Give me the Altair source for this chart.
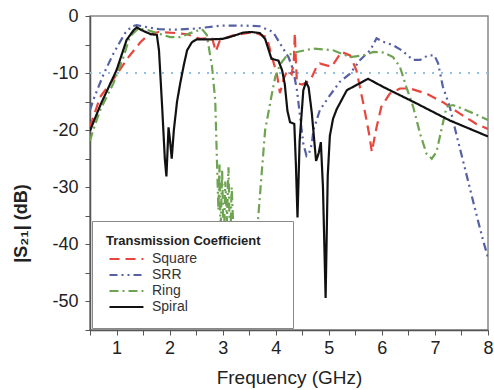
import altair as alt
import pandas as pd

# ---- data ----
series_names = ["Square", "SRR", "Ring", "Spiral"]
series_colors = ["#e8453c", "#5561a3", "#6ea352", "#111111"]
series_dashes = [[10, 6], [8, 4, 2, 4, 2, 4], [9, 4, 2, 4], [1, 0]]

sq_x = [0.5, 0.69, 1.0, 1.2, 1.45, 1.6, 1.79, 2.14, 2.33, 2.58, 2.8, 2.87, 2.95, 3.2, 3.58, 3.83, 3.93, 4.02, 4.08,
        4.15, 4.22, 4.3, 4.34, 4.36, 4.38, 4.4, 4.5, 4.65, 4.77, 4.83, 5.05, 5.24, 5.4, 5.52, 5.65, 5.77, 5.81, 5.9,
        5.99, 6.15, 6.34, 6.53, 6.84, 7.15, 7.47, 7.78, 8.0]
sq_y = [-19.5, -14.2, -10.3, -7.5, -4.6, -3.3, -2.8, -3.0, -3.2, -4.0, -3.8, -6.2, -4.2, -3.4, -2.8, -3.7, -7.2,
        -10.1, -13.5, -11.0, -9.5, -10.2, -8.0, -3.0, -8.0, -11.8, -12.0, -11.3, -8.9, -8.3, -8.9, -6.3, -6.9, -9.5,
        -15.3, -21.2, -23.8, -19.5, -15.9, -13.6, -12.7, -12.7, -13.6, -15.1, -17.1, -18.9, -19.8]

srr_x = [0.5, 0.57, 0.76, 0.94, 1.16, 1.29, 1.38, 1.6, 1.8, 2.1, 2.5, 2.95, 3.45, 3.7, 3.95, 4.08, 4.24, 4.33, 4.4,
         4.46, 4.52, 4.58, 4.63, 4.68, 4.71, 4.83, 5.02, 5.21, 5.4, 5.59, 5.78, 5.9, 6.02, 6.21, 6.37, 6.59, 6.72,
         6.87, 6.99, 7.06, 7.15, 7.28, 7.4, 7.56, 7.78, 7.91, 8.0]
srr_y = [-16.5, -14.5, -10.1, -6.6, -3.0, -1.8, -1.6, -2.0, -2.3, -2.4, -2.2, -1.7, -1.7, -1.8, -2.8, -4.8, -7.2,
         -9.5, -13.0, -17.7, -22.4, -24.5, -24.0, -22.4, -20.0, -16.5, -13.9, -11.5, -10.1, -7.7, -6.0, -3.9, -4.5,
         -5.1, -6.0, -7.7, -7.7, -6.9, -6.9, -8.3, -12.4, -15.9, -20.6, -26.5, -34.7, -39.4, -42.3]

ring_x = [0.5, 0.54, 0.69, 0.94, 1.13, 1.25, 1.41, 1.6, 1.76, 2.01, 2.2, 2.39, 2.61, 2.7, 2.8, 2.86, 2.89, 2.92,
          2.94, 2.96, 2.99, 3.02, 3.05, 3.08, 3.11, 3.14, 3.17, 3.2, 3.23, 3.4, 3.6, 3.67, 3.74, 3.8, 3.87, 3.93,
          3.99, 4.08, 4.21, 4.4, 4.71, 5.08, 5.4, 5.65, 5.84, 6.03, 6.21, 6.34, 6.46, 6.59, 6.72, 6.84, 6.94, 7.03,
          7.12, 7.22, 7.34, 7.59, 8.0]
ring_y = [-21.9, -20.6, -16.5, -11.8, -7.2, -3.6, -2.2, -2.5, -3.0, -3.7, -3.7, -3.0, -2.3, -3.3, -8.9, -14.8,
          -24.7, -34, -26, -38, -27, -40, -29, -36, -26.5, -41, -30, -37, -45, -54, -48, -35.3, -27, -20, -16.5,
          -13.5, -10.7, -8.5, -6.9, -6.3, -5.7, -6.0, -7.2, -6.9, -6.3, -6.4, -7.2, -8.9, -12.4, -15.9, -20.6,
          -24.1, -25.0, -23.8, -20.0, -15.9, -15.6, -16.5, -18.2]

sp_x = [0.5, 0.7, 1.0, 1.19, 1.32, 1.38, 1.5, 1.65, 1.76, 1.8, 1.86, 1.91, 1.94, 1.98, 2.01, 2.04, 2.08, 2.14, 2.2,
        2.27, 2.33, 2.42, 2.51, 2.75, 3.0, 3.2, 3.39, 3.55, 3.7, 3.8, 3.92, 4.05, 4.12, 4.17, 4.22, 4.27, 4.35,
        4.38, 4.41, 4.45, 4.52, 4.57, 4.62, 4.68, 4.76, 4.81, 4.85, 4.89, 4.94, 4.98, 5.02, 5.08, 5.15, 5.34, 5.52,
        5.74, 6.02, 6.65, 7.28, 8.0]
sp_y = [-20.1, -15.5, -9.5, -4.2, -2.5, -2.0, -2.6, -3.2, -3.3, -6.0, -16, -25, -28.1, -19.5, -22, -25, -20, -15,
        -11.8, -8.5, -6.0, -4.6, -4.1, -4.1, -4.0, -3.5, -2.9, -2.8, -3.0, -4.0, -7.5, -7.8, -9.5, -11.9, -16.6,
        -18.6, -18.9, -26, -35.3, -22, -13, -11.6, -12.5, -17, -25.4, -24, -22.1, -30, -49.4, -28, -21, -18,
        -16.3, -13.0, -12.1, -11.0, -12.4, -15.3, -18.3, -21.1]

ref_level = [-10]
x_ticks = [0.5, 1, 1.5, 2, 2.5, 3, 3.5, 4, 4.5, 5, 5.5, 6, 6.5, 7, 7.5, 8]
y_ticks = [-55, -50, -45, -40, -35, -30, -25, -20, -15, -10, -5, 0]

# ---- build table ----
frames = []
for name, xs, ys in zip(series_names, [sq_x, srr_x, ring_x, sp_x], [sq_y, srr_y, ring_y, sp_y]):
    frames.append(pd.DataFrame({"freq": xs, "s21": ys, "series": name, "order": range(len(xs))}))
df = pd.concat(frames, ignore_index=True)
ref_df = pd.DataFrame({"level": ref_level})

font = "Liberation Sans"

x_scale = alt.Scale(domain=[0.5, 8], nice=False, zero=False)
y_scale = alt.Scale(domain=[-55, 0], nice=False, zero=False)

x_axis = alt.Axis(values=x_ticks, labelExpr="datum.value % 1 == 0 ? '' + datum.value : ''",
                  title="Frequency (GHz)", titleFontSize=19, titleFontWeight="normal", titleColor="#222",
                  titleY=38, titleBaseline="top",
                  labelFontSize=18, labelColor="#222", labelPadding=4, tickSize=5, tickColor="#555",
                  domainColor="#555", domainWidth=1.5, grid=False, labelFlush=False)
y_axis = alt.Axis(values=y_ticks, labelExpr="datum.value % 10 == 0 ? '' + datum.value : ''",
                  title="|S\u2082\u2081| (dB)", titleFontSize=18, titleFontWeight="bold", titleColor="#222",
                  titleX=-69, titleY=207, titleAngle=-90, titleBaseline="middle", titleAlign="center",
                  labelFontSize=18, labelColor="#222", labelPadding=7, tickSize=5, tickColor="#555",
                  domainColor="#555", domainWidth=1.5, grid=False, labelFlush=False)

rule = alt.Chart(ref_df).mark_rule(color="#8fc1e3", strokeDash=[2, 7], strokeWidth=2).encode(
    y=alt.Y("level:Q", scale=y_scale, axis=y_axis)
)

lines = alt.Chart(df).mark_line(strokeWidth=2.2, clip=True).encode(
    x=alt.X("freq:Q", scale=x_scale, axis=x_axis),
    y=alt.Y("s21:Q", scale=y_scale, axis=y_axis),
    order="order:Q",
    color=alt.Color("series:N", scale=alt.Scale(domain=series_names, range=series_colors),
                    legend=alt.Legend(
                        title="Transmission Coefficient\u00a0\u00a0\u00a0\u00a0\u00a0\u200b",
                        orient="none", legendX=2, legendY=205, direction="vertical",
                        padding=14, fillColor="white", strokeColor="#888",
                        titleFontSize=13, titleFontWeight="bold", titleColor="#222", titlePadding=4,
                        labelFontSize=14, labelColor="#333", labelOffset=32,
                        symbolType="M-1,0H8.7", symbolSize=49, symbolStrokeWidth=2, rowPadding=2)),
    strokeDash=alt.StrokeDash("series:N", scale=alt.Scale(domain=series_names, range=series_dashes),
                              legend=None),
    strokeWidth=alt.StrokeWidth("series:N", scale=alt.Scale(domain=series_names, range=[2.2, 2.2, 2.2, 2.6]),
                                legend=None),
)

chart = alt.layer(rule, lines).properties(
    width=398, height=314,
    autosize=alt.AutoSizeParams(type="none"),
    padding={"left": 90, "top": 16, "right": 6, "bottom": 60},
).configure(font=font).configure_view(stroke="#888", strokeWidth=1.5)

chart.save("out.html", embed_options={"renderer": "svg", "actions": False})
